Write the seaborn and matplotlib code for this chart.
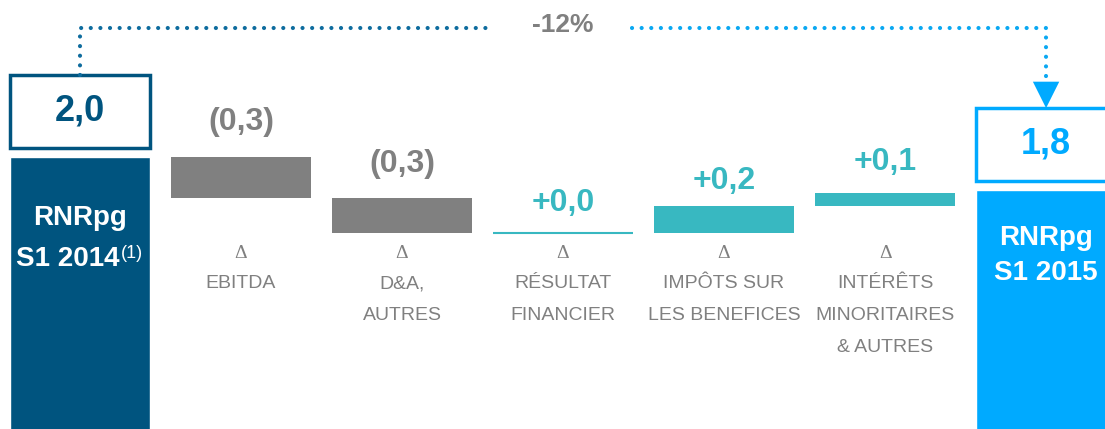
import matplotlib
matplotlib.use("Agg")
import matplotlib.pyplot as plt
import seaborn as sns

# waterfall data (EUR bn)
categories = ["RNRpg S1 2014", "EBITDA", "D&A, AUTRES", "RÉSULTAT FINANCIER",
              "IMPÔTS SUR LES BENEFICES", "INTÉRÊTS MINORITAIRES & AUTRES", "RNRpg S1 2015"]
start_value = 2.0
deltas = [-0.25, -0.21, 0.0, 0.16, 0.08]
end_value = 1.8
value_labels = ["2,0", "(0,3)", "(0,3)", "+0,0", "+0,2", "+0,1", "1,8"]
axis_labels = [
    None,
    ["EBITDA"],
    ["D&A,", "AUTRES"],
    ["RÉSULTAT", "FINANCIER"],
    ["IMPÔTS SUR", "LES BENEFICES"],
    ["INTÉRÊTS", "MINORITAIRES", "& AUTRES"],
    None,
]
change_label = "-12%"

DARK_BLUE = "#00547F"
LIGHT_BLUE = "#00AAFF"
TEAL = "#38B8C1"
GRAY = "#808080"

sns.set_theme(style="white")
plt.rcParams["font.family"] = ["Liberation Sans", "DejaVu Sans"]

fig = plt.figure(figsize=(11.05, 4.29), dpi=100)
ax = fig.add_axes([0, 0, 1, 1])
ax.set_xlim(-0.497, 6.366)
ax.set_ylim(0.35, 2.95)
ax.axis("off")

W = 0.87
BOX_GAP = 0.055
BOX_H = 0.44
# gap (px) between delta bar top and its value label centre
LABEL_PAD = [35, 34, 30, 25, 31]


def px_y(p):
    # pixel row from top -> axes fraction
    return 1 - p / 429


xt = ax.get_xaxis_transform()

# totals
ax.bar(0, start_value, width=W, color=DARK_BLUE)
ax.bar(6, end_value, width=W, color=LIGHT_BLUE)

# floating deltas
level = start_value
for i, d in enumerate(deltas, start=1):
    bottom = level + min(d, 0)
    col = GRAY if d < 0 else TEAL
    ax.bar(i, abs(d), bottom=bottom, width=W, color=col,
           edgecolor=col if d == 0 else "none", linewidth=1.5)
    top = level + max(d, 0)
    ax.annotate(value_labels[i], (i, top), xytext=(0, LABEL_PAD[i - 1] * 0.72),
                textcoords="offset points", ha="center", va="center",
                fontsize=23, fontweight="bold", color=col)
    level += d

# value boxes above the totals
for x, v, col in [(0, start_value, DARK_BLUE), (6, end_value, LIGHT_BLUE)]:
    ax.bar(x, BOX_H, bottom=v + BOX_GAP, width=W, color="white",
           edgecolor=col, linewidth=2.5)
    ax.text(x, v + BOX_GAP + BOX_H / 2, value_labels[x], ha="center", va="center",
            fontsize=26, fontweight="bold", color=col)

# labels inside total bars
ax.text(0, px_y(218), "RNRpg", transform=xt, ha="center", va="center",
        fontsize=20, fontweight="bold", color="white")
ax.text(0.248, px_y(259), "S1 2014", transform=xt, ha="right", va="center",
        fontsize=20, fontweight="bold", color="white")
ax.text(0.255, px_y(253), "(1)", transform=xt, ha="left", va="center",
        fontsize=13, color="white")
ax.text(6, px_y(238), "RNRpg", transform=xt, ha="center", va="center",
        fontsize=20, fontweight="bold", color="white")
ax.text(6, px_y(273), "S1 2015", transform=xt, ha="center", va="center",
        fontsize=20, fontweight="bold", color="white")

# category labels under deltas
for i, lines in enumerate(axis_labels):
    if not lines:
        continue
    ax.text(i, px_y(253), "Δ", transform=xt, ha="center", va="center",
            fontsize=14, color=GRAY, family=["Liberation Serif", "DejaVu Serif"])
    for j, line in enumerate(lines):
        ax.text(i, px_y(284 + 32 * j), line, transform=xt, ha="center", va="center",
                fontsize=14, color=GRAY)

# dotted connector with change label
CONN_Y = 2.78
dots = dict(linestyle=(0, (0.01, 2.3)), linewidth=3, dash_capstyle="round")
ax.plot([0, 0, 2.55], [start_value + BOX_GAP + BOX_H, CONN_Y, CONN_Y],
        color="#0E6C9E", **dots)
ax.plot([3.43, 6, 6], [CONN_Y, CONN_Y, end_value + BOX_GAP + BOX_H + 0.13],
        color="#0AA8F2", **dots)
ax.annotate("", xy=(6, end_value + BOX_GAP + BOX_H), xytext=(6, end_value + BOX_GAP + BOX_H + 0.16),
            arrowprops=dict(arrowstyle="-|>,head_width=0.5,head_length=1.0",
                            mutation_scale=19, color=LIGHT_BLUE, lw=0,
                            shrinkA=0, shrinkB=0))
ax.text(3, CONN_Y + 0.02, change_label, ha="center", va="center",
        fontsize=19, fontweight="bold", color=GRAY)

fig.savefig("out.png", dpi=100)
